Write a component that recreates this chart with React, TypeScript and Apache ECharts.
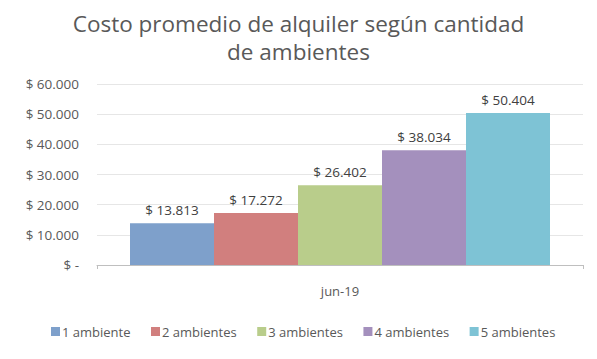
import React, { useEffect, useRef } from "react";
import * as echarts from "echarts";

const categories = ["jun-19"];
const seriesNames = ["1 ambiente", "2 ambientes", "3 ambientes", "4 ambientes", "5 ambientes"];
const seriesValues = [13813, 17272, 26402, 38034, 50404];
const seriesColors = ["#7EA0CB", "#D17F7E", "#B9CD8B", "#A490BD", "#7EC3D5"];

const fmt = (v: number) => {
  if (v === 0) return "$ -";
  return "$ " + String(Math.round(v)).replace(/\B(?=(\d{3})+(?!\d))/g, ".");
};

export default function App() {
  const ref = useRef<HTMLDivElement>(null);
  useEffect(() => {
    if (!ref.current) return;
    const chart = echarts.init(ref.current, undefined, { renderer: "svg" });
    const font = "Open Sans";
    chart.setOption({
      animation: false,
      textStyle: { fontFamily: font },
      title: {
        text: "Costo promedio de alquiler según cantidad\nde ambientes",
        left: "center",
        top: 4,
        textStyle: { fontFamily: font, fontSize: 22.5, fontWeight: "normal", color: "#595959", lineHeight: 28 },
      },
      legend: {
        bottom: 16,
        left: 46,
        itemWidth: 9,
        itemHeight: 9,
        itemGap: 20.5,
        icon: "rect",
        textStyle: { fontFamily: font, fontSize: 13, color: "#595959", padding: [0, 0, 0, -3] },
        data: seriesNames,
      },
      grid: { left: 97, right: 14, top: 84, bottom: 94 },
      xAxis: {
        type: "category",
        data: categories,
        axisLine: { lineStyle: { color: "#BFBFBF", width: 1 } },
        axisTick: { show: true, alignWithLabel: false, length: 4, lineStyle: { color: "#BFBFBF" } },
        axisLabel: { fontFamily: font, fontSize: 13, color: "#595959", margin: 19 },
      },
      yAxis: {
        type: "value",
        min: 0,
        max: 60000,
        interval: 10000,
        axisLine: { show: false },
        axisTick: { show: false },
        splitLine: { lineStyle: { color: "#E6E6E6" } },
        axisLabel: { fontFamily: font, fontSize: 13.5, color: "#595959", margin: 18, formatter: fmt },
      },
      series: seriesNames.map((name, i) => ({
        name,
        type: "bar",
        barWidth: 84,
        barGap: "0%",
        itemStyle: { color: seriesColors[i] },
        label: {
          show: true,
          position: "top",
          distance: 6,
          fontFamily: font,
          fontSize: 13.5,
          color: "#404040",
          formatter: (p: any) => fmt(p.value),
        },
        data: [seriesValues[i]],
      })),
    });
    return () => chart.dispose();
  }, []);
  return <div ref={ref} style={{ position: "absolute", left: 0, top: 0, width: 597, height: 359 }} />;
}
